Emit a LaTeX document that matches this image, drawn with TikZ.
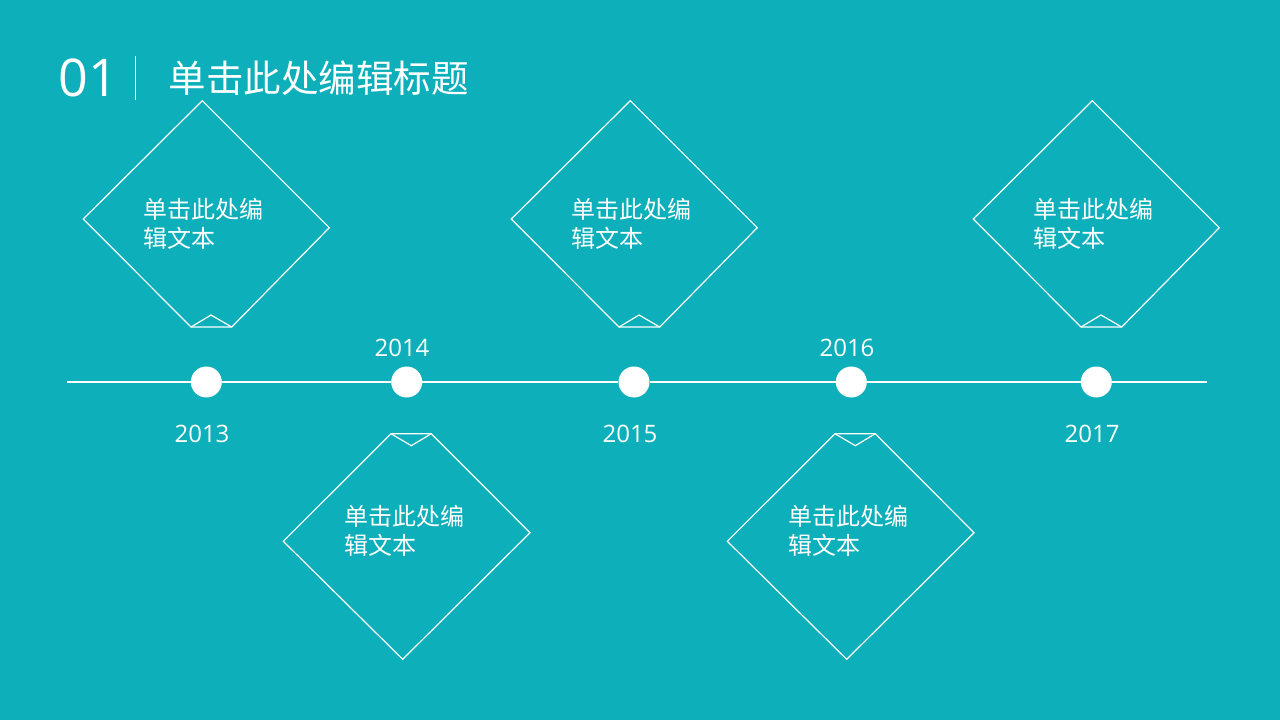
\documentclass[tikz,border=0pt]{standalone}
\usepackage{fontspec}
\setmainfont{Open Sans}
\newfontfamily\cjk{Noto Sans CJK SC}
\definecolor{bg}{RGB}{12,175,186}
\begin{document}
\begin{tikzpicture}[x=1pt,y=-1pt,line join=miter,
  dia/.style={draw=white, line width=1.2pt},
  dot/.style={circle, fill=white, minimum size=31pt, inner sep=0pt},
  year/.style={text=white, font=\fontsize{24}{24}\selectfont, anchor=base, inner sep=0pt},
  body/.style={text=white, font=\cjk\fontsize{24}{29.5}\selectfont, anchor=base west, align=left, inner sep=0pt, text width=140pt},
  tline/.style={draw=white, line width=1.2pt},
]
\fill[bg] (0,0) rectangle (1280,720);
\useasboundingbox (0,0) rectangle (1280,720);

% title
\node[text=white, font=\fontsize{52}{52}\selectfont, anchor=base west, inner sep=0pt] (num) at (58.5,96) {01};
\coordinate (barT) at (135.7,56);
\coordinate (barB) at (135.7,99.5);
\draw[white, line width=0.8pt] (barT) -- (barB);
\node[text=white, font=\cjk\fontsize{37.5}{37.5}\selectfont, anchor=base west, inner sep=0pt] (title) at (168.5,92.5) {单击此处编辑标题};

% top diamonds
\foreach \dx in {0,428,890}{
  \begin{scope}[xshift=\dx]
    \draw[dia] (202.3,100.7) -- (329.3,227.7) -- (231.7,327) -- (191,327) -- (83.3,219) -- cycle;
    \draw[dia] (191,327) -- (211,315) -- (231.7,327);
  \end{scope}
}
% bottom diamonds
\foreach \dx in {0,444}{
  \begin{scope}[xshift=\dx]
    \draw[dia] (391,433.7) -- (431.3,433.7) -- (530,532.7) -- (402.7,659.3) -- (283.3,541.3) -- cycle;
    \draw[dia] (391,433.7) -- (411.3,445.7) -- (431.3,433.7);
  \end{scope}
}

% timeline
\coordinate (L) at (67,382);
\coordinate (R) at (1207,382);
\node[dot] (c1) at (206.3,382) {};
\node[dot] (c2) at (406.7,382) {};
\node[dot] (c3) at (634,382) {};
\node[dot] (c4) at (851.3,382) {};
\node[dot] (c5) at (1096.3,382) {};
\draw[tline] (L) -- (c1) -- (c2) -- (c3) -- (c4) -- (c5) -- (R);

% years
\node[year] (y13) at (202,442) {2013};
\node[year] (y14) at (402,356) {2014};
\node[year] (y15) at (630,442) {2015};
\node[year] (y16) at (847,356) {2016};
\node[year] (y17) at (1092,442) {2017};

% body texts
\node[body] (t1) at (143,218) {单击此处编\\辑文本};
\node[body] (t3) at (571,218) {单击此处编\\辑文本};
\node[body] (t5) at (1033,218) {单击此处编\\辑文本};
\node[body] (t2) at (344,525) {单击此处编\\辑文本};
\node[body] (t4) at (788,525) {单击此处编\\辑文本};
\end{tikzpicture}
\end{document}
